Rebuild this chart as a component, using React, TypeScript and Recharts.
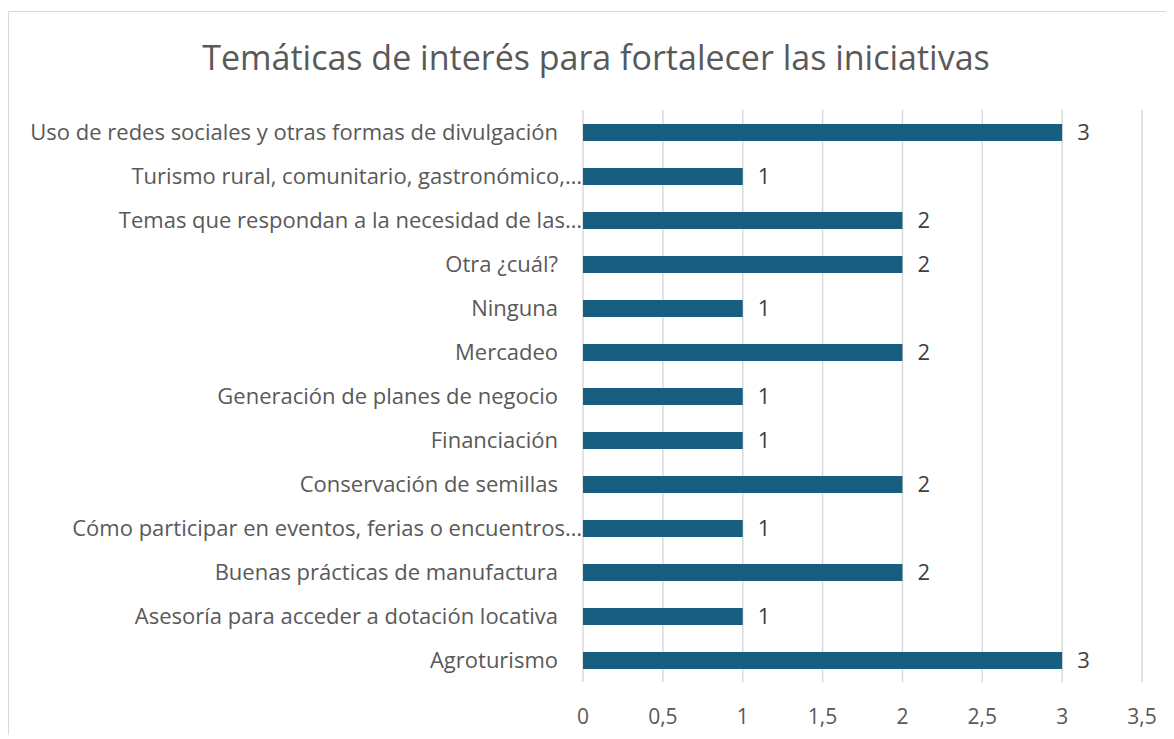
import { Bar, BarChart, CartesianGrid, LabelList, XAxis, YAxis } from "recharts";

const temas = [
  "Uso de redes sociales y otras formas de divulgación",
  "Turismo rural, comunitario, gastronómico,…",
  "Temas que respondan a la necesidad de las…",
  "Otra ¿cuál?",
  "Ninguna",
  "Mercadeo",
  "Generación de planes de negocio",
  "Financiación",
  "Conservación de semillas",
  "Cómo participar en eventos, ferias o encuentros…",
  "Buenas prácticas de manufactura",
  "Asesoría para acceder a dotación locativa",
  "Agroturismo",
];

const respuestas = [3, 1, 2, 2, 1, 2, 1, 1, 2, 1, 2, 1, 3];

const xTicks = [0, 0.5, 1, 1.5, 2, 2.5, 3, 3.5];

const data = temas.map((t, i) => ({ tema: t, valor: respuestas[i] }));

const font = "'Open Sans', sans-serif";

function TemaTick(props: any) {
  const { x, y, payload } = props;
  const truncated = String(payload.value).endsWith("…");
  return (
    <text
      x={x - (truncated ? 1 : 25)}
      y={y}
      dy="0.35em"
      textAnchor="end"
      fill="#595959"
      fontSize={22}
      fontFamily={font}
    >
      {payload.value}
    </text>
  );
}

export default function App() {
  return (
    <div
      style={{
        position: "relative",
        top: 3,
        width: 1165,
        height: 727,
        borderTop: "1px solid #d9d9d9",
        borderLeft: "1px solid #d9d9d9",
        boxSizing: "border-box",
        background: "#fff",
      }}
    >
      <div
        style={{
          position: "absolute",
          top: 25,
          left: 587,
          transform: "translateX(-50%)",
          whiteSpace: "nowrap",
          fontFamily: font,
          fontSize: 34,
          lineHeight: "40px",
          color: "#595959",
        }}
      >
        Temáticas de interés para fortalecer las iniciativas
      </div>
      <BarChart
        width={1150}
        height={720}
        data={data}
        layout="vertical"
        margin={{ top: 98, right: 17, bottom: 0, left: 0 }}
        barCategoryGap={0}
      >
        <CartesianGrid horizontal={false} stroke="#d9d9d9" strokeWidth={1.5} />
        <XAxis
          type="number"
          domain={[0, 3.5]}
          ticks={xTicks}
          tickFormatter={(v: number) => String(v).replace(".", ",")}
          axisLine={false}
          tickLine={false}
          tickSize={0}
          tickMargin={27}
          height={50}
          tick={{ fill: "#595959", fontSize: 21, fontFamily: font }}
        />
        <YAxis
          type="category"
          dataKey="tema"
          width={574}
          axisLine={false}
          tickLine={false}
          tickSize={0}
          tickMargin={0}
          interval={0}
          tick={<TemaTick />}
        />
        <Bar dataKey="valor" fill="#175e80" barSize={17} isAnimationActive={false}>
          <LabelList
            dataKey="valor"
            position="right"
            offset={15}
            fill="#404040"
            fontSize={22}
            fontFamily={font}
          />
        </Bar>
      </BarChart>
    </div>
  );
}
